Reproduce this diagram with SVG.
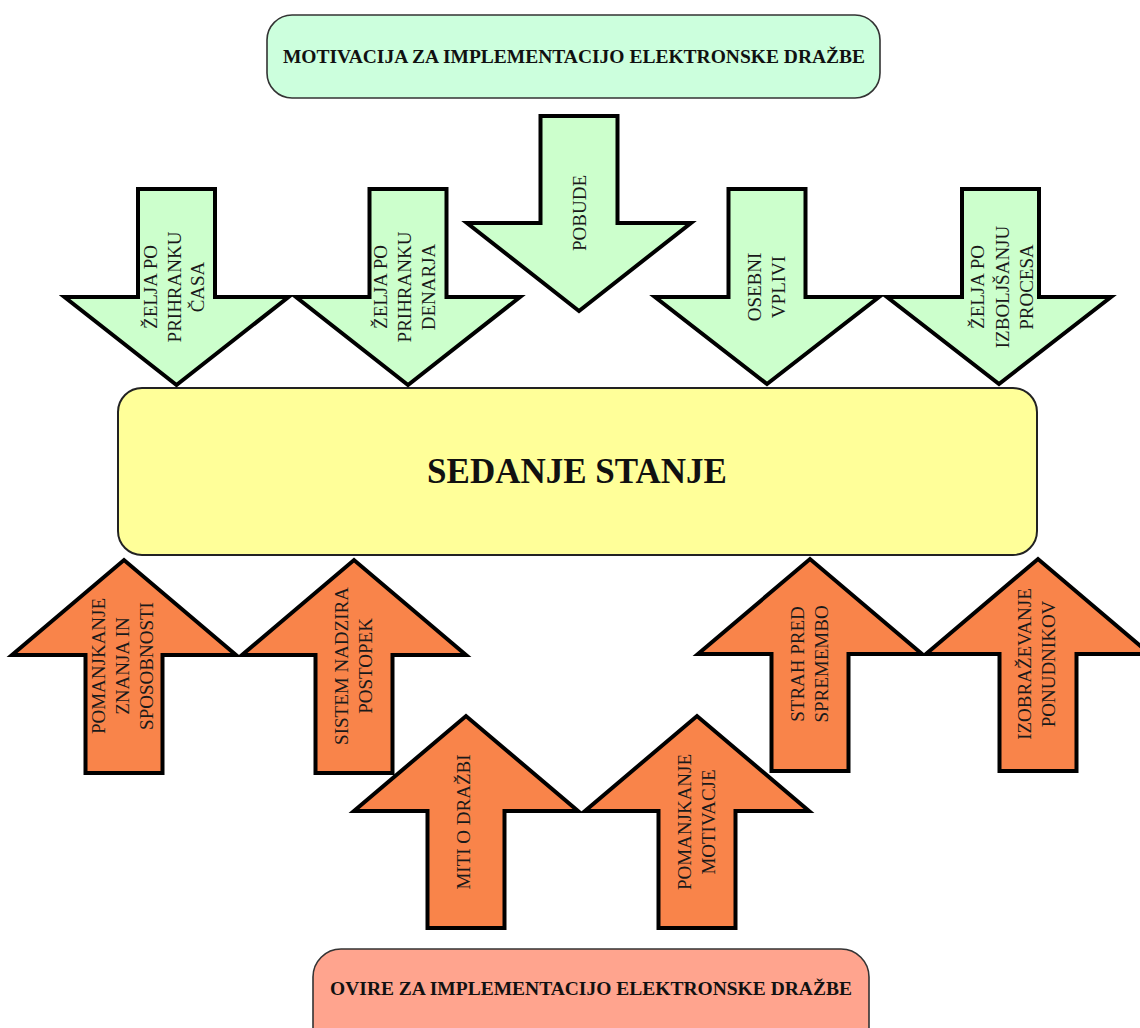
<svg xmlns="http://www.w3.org/2000/svg" width="1140" height="1028" viewBox="0 0 1140 1028">
<style>
.box-top{fill:#ccffdd;stroke:#333;stroke-width:1.6}
.box-mid{fill:#ffff99;stroke:#222;stroke-width:2}
.box-bot{fill:#ffa48e;stroke:#333;stroke-width:1.6}
.title{font-family:"Liberation Serif","Times New Roman",serif;font-weight:bold;fill:#111;text-anchor:middle}
.arr-g{fill:#ccffcc;stroke:#000;stroke-width:4;stroke-linejoin:miter}
.arr-o{fill:#f9844a;stroke:#000;stroke-width:4;stroke-linejoin:miter}
.lbl{font-family:"Liberation Serif","Times New Roman",serif;font-size:19px;fill:#1a1a1a;text-anchor:middle}
</style>
<rect width="1140" height="1028" fill="#fff"/>
<g id="motivacija">
<rect class="box-top" x="267" y="15" width="613" height="83" rx="25"/>
<text class="title" x="574" y="63" font-size="19.5">MOTIVACIJA ZA IMPLEMENTACIJO ELEKTRONSKE DRAŽBE</text>
</g>
<g id="sedanje-stanje">
<rect class="box-mid" x="118" y="388" width="919" height="167" rx="24"/>
<text class="title" x="577" y="483" font-size="35">SEDANJE STANJE</text>
</g>
<g id="ovire">
<rect class="box-bot" x="313" y="949" width="556" height="110" rx="28"/>
<text class="title" x="591" y="995" font-size="19.5">OVIRE ZA IMPLEMENTACIJO ELEKTRONSKE DRAŽBE</text>
</g>
<g id="arrow-zelja-cas">
<path class="arr-g" d="M138,189 H215 V297 H288.5 L176.5,385 L64.5,297 H138 Z"/>
<text class="lbl" transform="translate(151,287) rotate(-90)" y="6">ŽELJA PO</text>
<text class="lbl" transform="translate(175,287) rotate(-90)" y="6">PRIHRANKU</text>
<text class="lbl" transform="translate(198,287) rotate(-90)" y="6">ČASA</text>
</g>
<g id="arrow-zelja-denar">
<path class="arr-g" d="M369.5,189 H446.5 V297 H520 L408,385 L296,297 H369.5 Z"/>
<text class="lbl" transform="translate(381,287) rotate(-90)" y="6">ŽELJA PO</text>
<text class="lbl" transform="translate(405,287) rotate(-90)" y="6">PRIHRANKU</text>
<text class="lbl" transform="translate(429,287) rotate(-90)" y="6">DENARJA</text>
</g>
<g id="arrow-pobude">
<path class="arr-g" d="M540.5,116 H617.5 V223 H691 L579,311 L467,223 H540.5 Z"/>
<text class="lbl" transform="translate(580,213) rotate(-90)" y="6">POBUDE</text>
</g>
<g id="arrow-osebni">
<path class="arr-g" d="M728.5,189 H805.5 V297 H879 L767,384 L655,297 H728.5 Z"/>
<text class="lbl" transform="translate(755,287) rotate(-90)" y="6">OSEBNI</text>
<text class="lbl" transform="translate(779,287) rotate(-90)" y="6">VPLIVI</text>
</g>
<g id="arrow-zelja-proces">
<path class="arr-g" d="M962,189 H1039 V297 H1111 L999,384 L887,297 H962 Z"/>
<text class="lbl" transform="translate(978,287) rotate(-90)" y="6">ŽELJA PO</text>
<text class="lbl" transform="translate(1003,287) rotate(-90)" y="6">IZBOLJŠANJU</text>
<text class="lbl" transform="translate(1027,287) rotate(-90)" y="6">PROCESA</text>
</g>
<g id="arrow-znanje">
<path class="arr-o" d="M85.5,773 H162.5 V655 H236 L124,560 L12,655 H85.5 Z"/>
<text class="lbl" transform="translate(99,666) rotate(-90)" y="6">POMANJKANJE</text>
<text class="lbl" transform="translate(123,666) rotate(-90)" y="6">ZNANJA IN</text>
<text class="lbl" transform="translate(147,666) rotate(-90)" y="6">SPOSOBNOSTI</text>
</g>
<g id="arrow-sistem">
<path class="arr-o" d="M315.5,773 H392.5 V655 H466 L354,560 L242,655 H315.5 Z"/>
<text class="lbl" transform="translate(342,666) rotate(-90)" y="6">SISTEM NADZIRA</text>
<text class="lbl" transform="translate(366,666) rotate(-90)" y="6">POSTOPEK</text>
</g>
<g id="arrow-miti">
<path class="arr-o" d="M427.5,928 H504.5 V811 H578 L466,716 L354,811 H427.5 Z"/>
<text class="lbl" transform="translate(464,822) rotate(-90)" y="6">MITI O DRAŽBI</text>
</g>
<g id="arrow-motivacija">
<path class="arr-o" d="M658.5,928 H735.5 V811 H809 L697,716 L585,811 H658.5 Z"/>
<text class="lbl" transform="translate(685,822) rotate(-90)" y="6">POMANJKANJE</text>
<text class="lbl" transform="translate(709,822) rotate(-90)" y="6">MOTIVACJE</text>
</g>
<g id="arrow-strah">
<path class="arr-o" d="M771.5,771 H848.5 V654 H922 L810,559 L698,654 H771.5 Z"/>
<text class="lbl" transform="translate(798,664) rotate(-90)" y="6">STRAH PRED</text>
<text class="lbl" transform="translate(822,664) rotate(-90)" y="6">SPREMEMBO</text>
</g>
<g id="arrow-izobrazevanje">
<path class="arr-o" d="M999.5,771 H1076.5 V654 H1150 L1038,559 L926,654 H999.5 Z"/>
<text class="lbl" transform="translate(1025,664) rotate(-90)" y="6">IZOBRAŽEVANJE</text>
<text class="lbl" transform="translate(1049,664) rotate(-90)" y="6">PONUDNIKOV</text>
</g>
<g id="connectors"></g>
</svg>
